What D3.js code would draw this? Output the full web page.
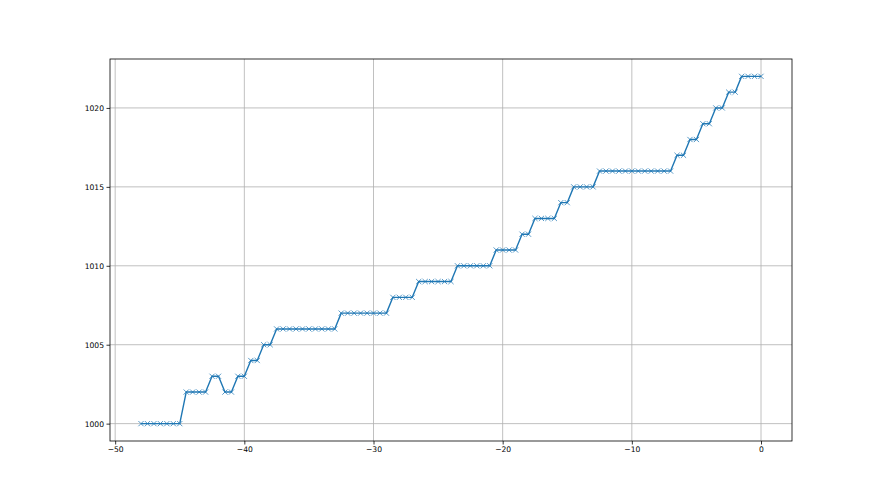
<!DOCTYPE html>
<html>
<head>
<meta charset="utf-8">
<script src="https://cdn.jsdelivr.net/npm/d3@7"></script>
<style>
  html, body { margin: 0; padding: 0; background: #fff; }
  svg { display: block; }
  .tick text { font-family: "DejaVu Sans", sans-serif; font-size: 7.6px; fill: #000; }
</style>
</head>
<body>
<svg id="chart" width="880" height="495"></svg>
<script>
const xValues = [
  -48, -47.5, -47, -46.5, -46, -45.5, -45, -44.5, -44, -43.5,
  -43, -42.5, -42, -41.5, -41, -40.5, -40, -39.5, -39, -38.5,
  -38, -37.5, -37, -36.5, -36, -35.5, -35, -34.5, -34, -33.5,
  -33, -32.5, -32, -31.5, -31, -30.5, -30, -29.5, -29, -28.5,
  -28, -27.5, -27, -26.5, -26, -25.5, -25, -24.5, -24, -23.5,
  -23, -22.5, -22, -21.5, -21, -20.5, -20, -19.5, -19, -18.5,
  -18, -17.5, -17, -16.5, -16, -15.5, -15, -14.5, -14, -13.5,
  -13, -12.5, -12, -11.5, -11, -10.5, -10, -9.5, -9, -8.5,
  -8, -7.5, -7, -6.5, -6, -5.5, -5, -4.5, -4, -3.5,
  -3, -2.5, -2, -1.5, -1, -0.5, 0
];
const yValues = [
  1000, 1000, 1000, 1000, 1000, 1000, 1000, 1002, 1002, 1002,
  1002, 1003, 1003, 1002, 1002, 1003, 1003, 1004, 1004, 1005,
  1005, 1006, 1006, 1006, 1006, 1006, 1006, 1006, 1006, 1006,
  1006, 1007, 1007, 1007, 1007, 1007, 1007, 1007, 1007, 1008,
  1008, 1008, 1008, 1009, 1009, 1009, 1009, 1009, 1009, 1010,
  1010, 1010, 1010, 1010, 1010, 1011, 1011, 1011, 1011, 1012,
  1012, 1013, 1013, 1013, 1013, 1014, 1014, 1015, 1015, 1015,
  1015, 1016, 1016, 1016, 1016, 1016, 1016, 1016, 1016, 1016,
  1016, 1016, 1016, 1017, 1017, 1018, 1018, 1019, 1019, 1020,
  1020, 1021, 1021, 1022, 1022, 1022, 1022
];
const xTicks = [-50, -40, -30, -20, -10, 0];
const yTicks = [1000, 1005, 1010, 1015, 1020];

const data = xValues.map((x, i) => ({ x, y: yValues[i] }));

const pLeft = 110, pRight = 792, pTop = 59, pBottom = 441;
const svg = d3.select("#chart");

const xMin = d3.min(xValues), xMax = d3.max(xValues);
const yMin = d3.min(yValues), yMax = d3.max(yValues);
const xPad = (xMax - xMin) * 0.05, yPad = (yMax - yMin) * 0.05;

const x = d3.scaleLinear().domain([xMin - xPad, xMax + xPad]).range([pLeft, pRight]);
const y = d3.scaleLinear().domain([yMin - yPad, yMax + yPad]).range([pBottom, pTop]);

// grid
const grid = svg.append("g");
grid.selectAll(".vg").data(xTicks).enter().append("line")
  .attr("x1", d => x(d)).attr("x2", d => x(d))
  .attr("y1", pTop).attr("y2", pBottom)
  .attr("stroke", "#b0b0b0").attr("stroke-width", 0.8);
grid.selectAll(".hg").data(yTicks).enter().append("line")
  .attr("x1", pLeft).attr("x2", pRight)
  .attr("y1", d => y(d)).attr("y2", d => y(d))
  .attr("stroke", "#b0b0b0").attr("stroke-width", 0.8);

// line
const line = d3.line().x(d => x(d.x)).y(d => y(d.y));
svg.append("path").datum(data)
  .attr("d", line)
  .attr("fill", "none")
  .attr("stroke", "#1f77b4")
  .attr("stroke-width", 1.4)
  .attr("stroke-linejoin", "round");

// markers (x)
const ms = 2.6;
const markers = svg.append("g");
markers.selectAll("path").data(data).enter().append("path")
  .attr("d", d => {
    const cx = x(d.x), cy = y(d.y);
    return `M${cx - ms},${cy - ms}L${cx + ms},${cy + ms}M${cx - ms},${cy + ms}L${cx + ms},${cy - ms}`;
  })
  .attr("stroke", "#1f77b4")
  .attr("stroke-opacity", 0.75)
  .attr("stroke-width", 1)
  .attr("fill", "none");

// spines
svg.append("rect")
  .attr("x", pLeft).attr("y", pTop)
  .attr("width", pRight - pLeft).attr("height", pBottom - pTop)
  .attr("fill", "none").attr("stroke", "#000").attr("stroke-width", 0.8);

// axes
const xAxis = d3.axisBottom(x).tickValues(xTicks).tickSize(3.5).tickPadding(2.5)
  .tickFormat(d => d3.format("")(d).replace("-", "\u2212"));
const yAxis = d3.axisLeft(y).tickValues(yTicks).tickSize(3.5).tickPadding(2.5)
  .tickFormat(d3.format("d"));

const gx = svg.append("g").attr("transform", `translate(0,${pBottom})`).call(xAxis);
const gy = svg.append("g").attr("transform", `translate(${pLeft},0)`).call(yAxis);
[gx, gy].forEach(g => {
  g.select(".domain").remove();
  g.selectAll(".tick line").attr("stroke", "#000").attr("stroke-width", 0.8);
});
</script>
</body>
</html>
